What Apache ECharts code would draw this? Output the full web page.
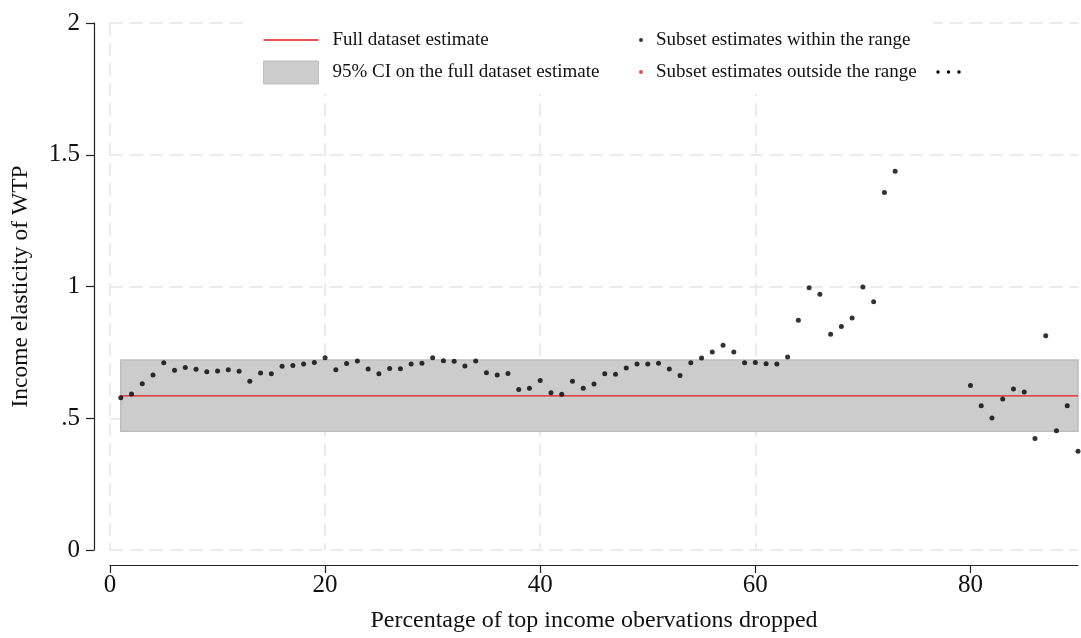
<!DOCTYPE html>
<html>
<head>
<meta charset="utf-8">
<script src="https://cdn.jsdelivr.net/npm/echarts@6/dist/echarts.min.js"></script>
<style>html,body{margin:0;padding:0;background:#fff;}#chart{width:1081px;height:638px;}</style>
</head>
<body>
<div id="chart"></div>
<script>
// Percentage of top income observations dropped (x) for each subset estimate
const pctDropped = [1,2,3,4,5,6,7,8,9,10,11,12,13,14,15,16,17,18,19,20,
  21,22,23,24,25,26,27,28,29,30,31,32,33,34,35,36,37,38,39,40,
  41,42,43,44,45,46,47,48,49,50,51,52,53,54,55,56,57,58,59,60,
  61,62,63,64,65,66,67,68,69,70,71,72,73,80,81,82,83,84,85,86,87,88,89,90];
// Income elasticity of WTP, subset estimates within the range
const elasticity = [0.578,0.592,0.631,0.664,0.711,0.682,0.693,0.686,0.676,0.679,
  0.684,0.678,0.640,0.672,0.669,0.697,0.700,0.706,0.712,0.730,
  0.684,0.708,0.717,0.687,0.669,0.689,0.688,0.706,0.709,0.730,
  0.718,0.716,0.698,0.717,0.673,0.664,0.670,0.609,0.614,0.643,
  0.597,0.591,0.640,0.614,0.630,0.669,0.667,0.691,0.706,0.706,
  0.709,0.687,0.662,0.711,0.729,0.751,0.777,0.751,0.711,0.712,
  0.707,0.706,0.732,0.872,0.995,0.971,0.819,0.848,0.880,0.998,
  0.942,1.357,1.437,0.624,0.547,0.501,0.573,0.611,0.600,0.423,
  0.813,0.453,0.547,0.375];
// Subset estimates outside the range (none)
const outsideX = [];
const outsideY = [];
// Full dataset estimate and its 95% CI
const fullEstimate = 0.585;
const ciLower = 0.451;
const ciUpper = 0.721;
const lineRange = [1, 90];
// Axis ticks
const xTicks = [0, 20, 40, 60, 80];
const yTicks = [0, 0.5, 1, 1.5, 2];
const yTickLabels = ['0', '.5', '1', '1.5', '2'];
const xTitle = 'Percentage of top income obervations dropped';
const yTitle = 'Income elasticity of WTP';
const legendNames = ['Full dataset estimate', '95% CI on the full dataset estimate',
  'Subset estimates within the range', 'Subset estimates outside the range'];

const FONT = '"Liberation Serif", "Times New Roman", serif';
const chart = echarts.init(document.getElementById('chart'), null, {renderer: 'canvas'});

const withinData = pctDropped.map((x, i) => [x, elasticity[i]]);
const outsideData = outsideX.map((x, i) => [x, outsideY[i]]);
const gridLine = {show: true, lineStyle: {color: '#ebebeb', width: 2, type: [13, 7]}};
const legendText = {fontFamily: FONT, fontSize: 19, color: '#111', lineHeight: 23};

const option = {
  backgroundColor: '#fff',
  animation: false,
  grid: {left: 110, right: 3, top: 23, bottom: 88, containLabel: false},
  xAxis: {
    type: 'value', min: 0, max: 90, interval: 20, offset: 15,
    name: xTitle, nameLocation: 'middle', nameGap: 44,
    nameTextStyle: {fontFamily: FONT, fontSize: 24, color: '#111'},
    axisLine: {show: true, onZero: false, lineStyle: {color: '#222', width: 1.2}},
    axisTick: {show: true, length: 8, customValues: xTicks, lineStyle: {color: '#222', width: 1.2}},
    axisLabel: {customValues: xTicks, fontFamily: FONT, fontSize: 25, color: '#111', margin: 8},
    splitLine: Object.assign({showMaxLine: false}, gridLine)
  },
  yAxis: {
    type: 'value', min: 0, max: 2, interval: 0.5, offset: 16,
    name: yTitle, nameLocation: 'middle', nameGap: 61,
    nameTextStyle: {fontFamily: FONT, fontSize: 23.5, color: '#111'},
    axisLine: {show: true, onZero: false, lineStyle: {color: '#222', width: 1.2}},
    axisTick: {show: true, length: 8, lineStyle: {color: '#222', width: 1.2}},
    axisLabel: {fontFamily: FONT, fontSize: 25, color: '#111', margin: 14,
      formatter: v => { const i = yTicks.indexOf(v); return i >= 0 ? yTickLabels[i] : ''; }},
    splitLine: gridLine
  },
  legend: [{
    left: 263, top: 28.5, orient: 'vertical', padding: 0, itemGap: 9,
    itemWidth: 55, itemHeight: 23, selectedMode: false,
    textStyle: Object.assign({padding: [0, 0, 0, 9]}, legendText),
    data: [
      {name: legendNames[0], icon: 'path://M0,0 L55,0 L55,1.4 L0,1.4 Z', itemStyle: {color: '#e41a1c'}},
      {name: legendNames[1], icon: 'rect', itemStyle: {color: '#cccccc', borderColor: '#bdbdbd', borderWidth: 1}}
    ]
  }, {
    left: 639, top: 28.5, orient: 'vertical', padding: 0, itemGap: 9,
    itemWidth: 4, itemHeight: 23, selectedMode: false,
    textStyle: Object.assign({padding: [0, 0, 0, 8]}, legendText),
    data: [
      {name: legendNames[2], icon: 'circle'},
      {name: legendNames[3], icon: 'circle'}
    ]
  }],
  graphic: [
    {type: 'rect', z: 1, shape: {x: 250, y: 15, width: 683, height: 79}, style: {fill: '#fff'}},
    {type: 'group', z: 5, children: [
      {type: 'circle', shape: {cx: 938, cy: 72, r: 1.7}, style: {fill: '#000'}},
      {type: 'circle', shape: {cx: 948.5, cy: 72, r: 1.7}, style: {fill: '#000'}},
      {type: 'circle', shape: {cx: 959, cy: 72, r: 1.7}, style: {fill: '#000'}}
    ]}
  ],
  series: [
    {
      name: legendNames[1], type: 'custom', z: 2,
      itemStyle: {color: '#cccccc', borderColor: '#bdbdbd', borderWidth: 1},
      data: [[lineRange[0], ciLower, lineRange[1], ciUpper]],
      renderItem: (params, api) => {
        const p0 = api.coord([api.value(0), api.value(3)]);
        const p1 = api.coord([api.value(2), api.value(1)]);
        return {type: 'rect', shape: {x: p0[0], y: p0[1], width: p1[0] - p0[0], height: p1[1] - p0[1]},
          style: {fill: '#cccccc', stroke: '#bdbdbd', lineWidth: 1.5}};
      }
    },
    {
      name: legendNames[0], type: 'line', z: 3, symbol: 'none',
      lineStyle: {color: '#e41a1c', width: 1.3}, itemStyle: {color: '#e41a1c'},
      data: [[lineRange[0], fullEstimate], [lineRange[1], fullEstimate]]
    },
    {
      name: legendNames[2], type: 'scatter', z: 4, symbol: 'circle', symbolSize: 5,
      itemStyle: {color: '#000'}, data: withinData
    },
    {
      name: legendNames[3], type: 'scatter', z: 4, symbol: 'circle', symbolSize: 5,
      itemStyle: {color: '#e41a1c'}, data: outsideData
    }
  ]
};
chart.setOption(option);
</script>
</body>
</html>
